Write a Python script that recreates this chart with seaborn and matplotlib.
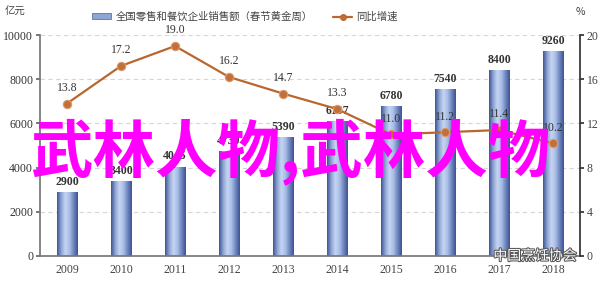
import numpy as np
import pandas as pd
import matplotlib
matplotlib.use("Agg")
import matplotlib.pyplot as plt
import seaborn as sns
from matplotlib.colors import LinearSegmentedColormap
from matplotlib.patches import Patch, Rectangle
from matplotlib.lines import Line2D
import matplotlib.patheffects as pe

years = ["2009", "2010", "2011", "2012", "2013", "2014", "2015", "2016", "2017", "2018"]
sales = [2900, 3400, 4045, 4730, 5390, 6107, 6780, 7540, 8400, 9260]
growth = [13.8, 17.2, 19.0, 16.2, 14.7, 13.3, 11.0, 11.2, 11.4, 10.2]
left_ticks = [0, 2000, 4000, 6000, 8000, 10000]
right_ticks = [0, 4, 8, 12, 16, 20]
legend_bar = "全国零售和餐饮企业销售额（春节黄金周）"
legend_line = "同比增速"
left_unit = "亿元"
right_unit = "%"
overlay = "武林人物,武林人物"
watermark = "中国烹饪协会"

sns.set_theme(style="white")
plt.rcParams['font.family'] = ['Noto Sans CJK SC', 'DejaVu Sans']
serif = ['Liberation Serif', 'DejaVu Serif']

fig = plt.figure(figsize=(6, 2.84), dpi=100)
ax = fig.add_axes([40/600, 1-256/284, 540/600, 221/284])
df = pd.DataFrame({"year": years, "sales": sales})
sns.barplot(data=df, x="year", y="sales", ax=ax, width=0.38, color="#8fa5d3",
            edgecolor="none", saturation=1)
ax.set_ylim(0, 10000)
ax.set_xlim(-0.5, len(years) - 0.5)

cmap = LinearSegmentedColormap.from_list("barg", ["#3f5694", "#8ea4d4", "#c6d5f1", "#a9bde6", "#6f86c0", "#3e5493"])
grad = np.linspace(0, 1, 64).reshape(1, -1)
for p in ax.patches:
    x0, y0 = p.get_x(), p.get_y()
    w, h = p.get_width(), p.get_height()
    im = ax.imshow(grad, cmap=cmap, aspect="auto", extent=(x0, x0 + w, y0, y0 + h), zorder=2)
    im.set_clip_path(p)
ax.set_xlim(-0.5, len(years) - 0.5)
ax.set_ylim(0, 10000)

for p, v in zip(ax.patches, sales):
    ax.annotate(f"{v}", (p.get_x() + p.get_width()/2, p.get_height()), xytext=(0, 3),
                textcoords="offset points", ha="center", va="bottom", fontsize=8.5,
                fontweight="bold", family=serif, color="#333333", zorder=5)

ax.set_yticks(left_ticks)
ax.set_yticklabels([str(t) for t in left_ticks], family=serif, fontsize=8.5, color="#333333")
ax.set_xticks(range(len(years)))
ax.set_xticklabels(years, family=serif, fontsize=8.5, color="#444444")
ax.set_xticks(np.arange(-0.5, len(years), 1), minor=True)
ax.tick_params(axis="x", which="major", length=0, pad=6)
ax.tick_params(axis="x", which="minor", length=3, color="#666666", direction="inout")
ax.tick_params(axis="y", length=3, color="#666666", direction="out", pad=2)
ax.set_xlabel("")
ax.set_ylabel("")
for y in left_ticks[1:]:
    ax.axhline(y, color="#d6d6d6", lw=0.8, ls=(0, (4, 3)), zorder=0)
ax.spines["top"].set_visible(False)
ax.spines["right"].set_visible(False)
ax.spines["left"].set_color("#777777")
ax.spines["bottom"].set_color("#777777")

ax2 = ax.twinx()
sns.lineplot(x=np.arange(len(years)), y=growth, ax=ax2, color="#b8672e", lw=1.6,
             marker="o", markersize=6, markerfacecolor="#c0703a", markeredgecolor="#e09a6a",
             markeredgewidth=0.8, zorder=4)
ax2.set_ylim(0, 20)
ax2.set_xlim(-0.5, len(years) - 0.5)
ax2.set_yticks(right_ticks)
ax2.set_yticklabels([str(t) for t in right_ticks], family=serif, fontsize=8.5, color="#444444")
ax2.tick_params(axis="y", length=3, color="#333333", direction="out", pad=2)
ax2.set_ylabel("")
for s in ["top", "left", "bottom"]:
    ax2.spines[s].set_visible(False)
ax2.spines["right"].set_color("#333333")
for i, g in enumerate(growth):
    ax2.annotate(f"{g:.1f}", (i, g), xytext=(0, 7), textcoords="offset points",
                 ha="center", va="bottom", fontsize=8.5, family=serif, color="#333333", zorder=5)

fig.text(5/600, 1-12/284, left_unit, fontsize=7.5, color="#444444", va="center", ha="left")
fig.text(580/600, 1-12/284, right_unit, fontsize=7.5, color="#444444", va="center", ha="center")

h1 = Patch(facecolor="#8fa5d3", edgecolor="#4a5f9c", lw=0.5)
h2 = Line2D([0], [0], color="#b8672e", lw=1.6, marker="o", markersize=4, markerfacecolor="#c0703a")
fig.legend([h1, h2], [legend_bar, legend_line], loc="center", bbox_to_anchor=(245/600, 1-17/284),
           ncol=2, frameon=False, fontsize=7.5, handlelength=1.8, handleheight=0.5,
           columnspacing=2.0, handletextpad=0.4, labelcolor="#444444")

fig.text(290/600, 1-152/284, overlay, fontsize=45, fontweight="bold", color="#ff00ff",
         ha="center", va="center", zorder=10)

fig.text(535/600, 1-256/284, watermark, fontsize=10, color="white", ha="center", va="center",
         path_effects=[pe.withStroke(linewidth=1.5, foreground="#555555")], zorder=11)

fig.savefig("out.png", dpi=100)
